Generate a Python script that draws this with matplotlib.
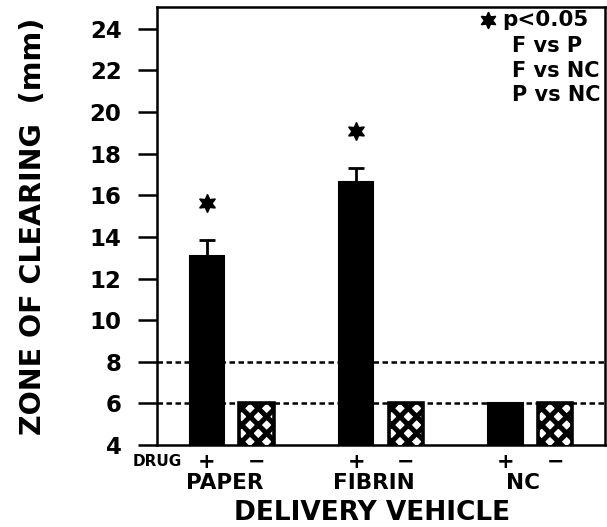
import matplotlib
matplotlib.use("Agg")
import matplotlib.pyplot as plt
import numpy as np
from matplotlib.transforms import blended_transform_factory
from matplotlib.lines import Line2D

plt.rcParams['font.family'] = ['DejaVu Sans']
plt.rcParams['font.weight'] = 'bold'
plt.rcParams['hatch.linewidth'] = 3.6

# ---- data ----
vehicles = ["PAPER", "FIBRIN", "NC"]
drug_labels = ["+", "\u2212"]
with_drug = [13.1, 16.65, 6.0]
with_drug_err = [0.75, 0.65, 0.0]
without_drug = [6.0, 6.0, 6.0]
significant = [True, True, False]
ref_lines = [6.0, 8.0]
yticks = [4, 6, 8, 10, 12, 14, 16, 18, 20, 22, 24]
legend_title = "p<0.05"
legend_lines = ["F vs P", "F vs NC", "P vs NC"]

fig = plt.figure(figsize=(6.07, 5.27), dpi=100)
ax = fig.add_axes([157/607, 1 - 445/527, (605-157)/607, (445-7)/527])

x = np.arange(len(vehicles))
off = 0.166
w = 0.23
ax.bar(x - off, with_drug, w, bottom=0, color='black', edgecolor='black', linewidth=1.5, zorder=3)
ax.errorbar(x - off, with_drug, yerr=[np.zeros(3), with_drug_err], fmt='none',
            ecolor='black', elinewidth=2, capsize=6, capthick=2, zorder=2)
ax.bar(x + off, without_drug, w, bottom=0, color='white', edgecolor='black',
       hatch='xx', linewidth=2.6, zorder=3)

for yv in ref_lines:
    ax.axhline(yv, color='black', lw=1.8, dashes=(2.2, 1.4), zorder=1)

star = (6, 1, 0)
for xi, v, e, s in zip(x, with_drug, with_drug_err, significant):
    if s:
        ax.plot([xi - off], [v + e + 1.8], marker=star, markersize=13, color='black',
                linestyle='none', zorder=4)

ax.set_xlim(-0.5, 2.5)
ax.set_ylim(4, 25.05)
ax.set_yticks(yticks)
ax.set_yticklabels([str(t) for t in yticks], fontsize=16.5, fontweight='bold')
ax.tick_params(axis='y', direction='out', length=13.5, width=1.8, pad=12)

pos = np.concatenate([x - off, x + off])
labs = [drug_labels[0]] * 3 + [drug_labels[1]] * 3
ax.set_xticks(pos)
ax.set_xticklabels(labs, fontsize=15, fontweight='bold')
ax.tick_params(axis='x', length=0, pad=5)

for sp in ax.spines.values():
    sp.set_linewidth(1.8)

trans = blended_transform_factory(ax.transData, fig.transFigure)
for xi, name in zip(x, vehicles):
    ax.text(xi - 0.05, 1 - 483/527, name, transform=trans, ha='center', va='center',
            fontsize=15.5, fontweight='bold')
fig.text(133/607, 1 - 462/527, "DRUG", ha='left', va='center', fontsize=11, fontweight='bold')
fig.text(372/607, 1 - 513/527, "DELIVERY VEHICLE", ha='center', va='center',
         fontsize=19, fontweight='bold')
fig.text(33/607, 1 - 226/527, "ZONE OF CLEARING  (mm)", rotation=90, ha='center', va='center',
         fontsize=20.5, fontweight='bold')

# legend block
fig.text(502/607, 1 - 20/527, legend_title, ha='left', va='center', fontsize=15.5, fontweight='bold')
for t, yy in zip(legend_lines, [46, 71, 95]):
    fig.text(512/607, 1 - yy/527, t, ha='left', va='center', fontsize=15, fontweight='bold')
fig.add_artist(Line2D([488/607], [1 - 20/527], marker=star, markersize=12, color='black',
                      linestyle='none', transform=fig.transFigure))

fig.savefig("out.png", dpi=100)
